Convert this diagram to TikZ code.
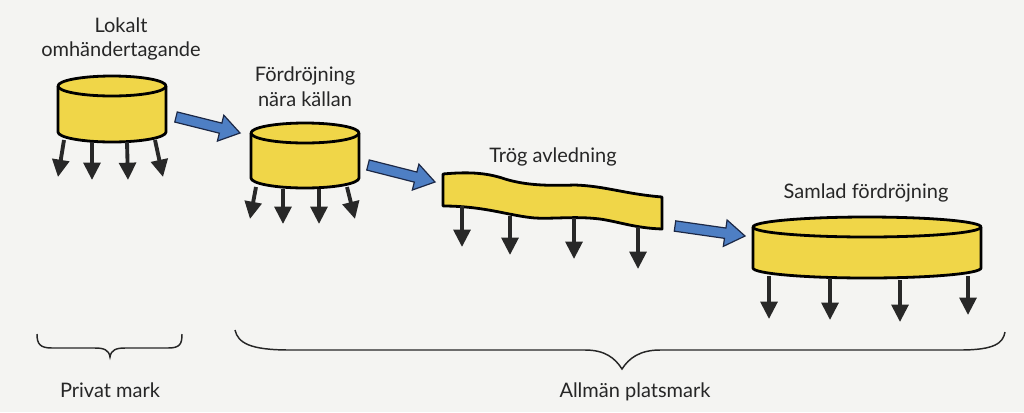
\documentclass[tikz,border=0pt]{standalone}
\usepackage{fontspec}
\setmainfont{Lato}
\usetikzlibrary{arrows.meta,calc}
\definecolor{bg}{RGB}{244,244,242}
\definecolor{cylyellow}{RGB}{240,214,72}
\definecolor{flowblue}{RGB}{78,127,196}
\definecolor{flowedge}{RGB}{28,40,70}
\definecolor{dropgray}{RGB}{40,40,40}
\tikzset{
  cylfill/.style={fill=cylyellow},
  cyledge/.style={draw=black,line width=2.1pt,line join=round},
  drop/.style={draw=dropgray,line width=2.9pt,-{Triangle[length=13pt,width=12.5pt]}},
  flow/.style={fill=flowblue,draw=flowedge,line width=0.9pt,line join=miter},
  lbl/.style={font=\fontsize{15}{18.5}\selectfont,text=black!85,align=center,inner sep=0pt},
  bracestyle/.style={draw=black!85,line width=1.1pt}
}
% #1 name, #2 cx, #3 top y, #4 bottom y, #5 rx, #6 ry
\newcommand\drawcyl[6]{%
  \pgfmathsetmacro\kx{0.5523*#5}\pgfmathsetmacro\ky{0.5523*#6}%
  \path[cylfill] ({#2-#5},#3) -- ({#2-#5},#4)
     .. controls ({#2-#5},{#4+\ky}) and ({#2-\kx},{#4+#6}) .. (#2,{#4+#6})
     .. controls ({#2+\kx},{#4+#6}) and ({#2+#5},{#4+\ky}) .. ({#2+#5},#4)
     -- ({#2+#5},#3)
     .. controls ({#2+#5},{#3-\ky}) and ({#2+\kx},{#3-#6}) .. (#2,{#3-#6})
     .. controls ({#2-\kx},{#3-#6}) and ({#2-#5},{#3-\ky}) .. ({#2-#5},#3) -- cycle;
  \path[cyledge] ({#2-#5},#3) -- ({#2-#5},#4)
     .. controls ({#2-#5},{#4+\ky}) and ({#2-\kx},{#4+#6}) .. (#2,{#4+#6})
     .. controls ({#2+\kx},{#4+#6}) and ({#2+#5},{#4+\ky}) .. ({#2+#5},#4)
     -- ({#2+#5},#3);
  \path[cyledge] ({#2-#5},#3)
     .. controls ({#2-#5},{#3+\ky}) and ({#2-\kx},{#3+#6}) .. (#2,{#3+#6})
     .. controls ({#2+\kx},{#3+#6}) and ({#2+#5},{#3+\ky}) .. ({#2+#5},#3)
     .. controls ({#2+#5},{#3-\ky}) and ({#2+\kx},{#3-#6}) .. (#2,{#3-#6})
     .. controls ({#2-\kx},{#3-#6}) and ({#2-#5},{#3-\ky}) .. ({#2-#5},#3) -- cycle;
  \coordinate (#1) at (#2,{(#3+#4)/2});
}
% block arrow from #1 (tail) to #2 (tip)
\newcommand\blockarrow[2]{%
  \path[flow] ($(#1)!3.9pt!90:(#2)$)
    -- ($($(#2)!15pt!(#1)$)!3.9pt!90:(#2)$)
    -- ($($(#2)!15pt!(#1)$)!10pt!90:(#2)$)
    -- (#2)
    -- ($($(#2)!15pt!(#1)$)!10pt!-90:(#2)$)
    -- ($($(#2)!15pt!(#1)$)!3.9pt!-90:(#2)$)
    -- ($(#1)!3.9pt!-90:(#2)$) -- cycle;
}
\begin{document}
\begin{tikzpicture}[x=0.75pt,y=-0.75pt]
\useasboundingbox (0,0) rectangle (1024,412);
\fill[bg] (0,0) rectangle (1024,412);

% labels
\node[lbl] (t1) at (121,39) {Lokalt\\omhändertagande};
\node[lbl] (t2) at (305,87) {Fördröjning\\nära källan};
\node[lbl,anchor=base] (t3) at (553,162) {Trög avledning};
\node[lbl,anchor=base] (t4) at (866,198) {Samlad fördröjning};

% cylinders
\drawcyl{c1}{112}{86}{132}{54}{10}
\drawcyl{c2}{305}{133}{178}{54}{10}
\drawcyl{c4}{867}{227}{268}{114}{10}

% slow conveyance band
\path[cylfill,cyledge] (443,174)
  .. controls (465,172) and (485,172) .. (505,179)
  .. controls (525,185) and (545,186) .. (575,185)
  .. controls (605,186) and (625,194) .. (662,197)
  -- (662,229)
  .. controls (635,228) and (620,222) .. (600,219)
  .. controls (575,216) and (555,219) .. (535,218)
  .. controls (510,216) and (485,206) .. (443,206) -- cycle;
\coordinate (c3) at (552,200);

% drop arrows
\draw[drop] (64,140) -- (58,177);
\draw[drop] (92,142) -- (92,180);
\draw[drop] (127,142) -- (128,180);
\draw[drop] (155,140) -- (163,177);

\draw[drop] (256,187) -- (250,219);
\draw[drop] (283,189) -- (283,224);
\draw[drop] (319,189) -- (319,224);
\draw[drop] (347,187) -- (355,219);

\draw[drop] (462,206) -- (462,247);
\draw[drop] (510,216) -- (510,255);
\draw[drop] (574,218) -- (574,259);
\draw[drop] (638,227) -- (638,269);

\draw[drop] (769,276) -- (769,319);
\draw[drop] (830,278) -- (830,320);
\draw[drop] (900,280) -- (900,322);
\draw[drop] (968,276) -- (968,315);

% flow arrows between stages
\coordinate (a1) at (176,117);
\coordinate (b1) at (240,133);
\coordinate (a2) at (368,165);
\coordinate (b2) at (435,182);
\coordinate (a3) at (675,226);
\coordinate (b3) at (745,236);
\blockarrow{a1}{b1}
\blockarrow{a2}{b2}
\blockarrow{a3}{b3}

% braces
\draw[bracestyle] (37,334) .. controls (37,344) and (40,348) .. (52,348) -- (95,348)
  .. controls (104,348) and (109,350) .. (110,357)
  .. controls (111,350) and (116,348) .. (125,348) -- (168,348)
  .. controls (180,348) and (182,344) .. (182,334);
\draw[bracestyle] (235,330) .. controls (238,343) and (250,350) .. (290,350) -- (585,350)
  .. controls (605,350) and (615,358) .. (622,369)
  .. controls (629,358) and (640,350) .. (660,350) -- (960,350)
  .. controls (995,350) and (1003,343) .. (1005,332);

\node[lbl,anchor=base] (p1) at (110,397) {Privat mark};
\node[lbl,anchor=base] (p2) at (635,397) {Allmän platsmark};
\end{tikzpicture}
\end{document}
